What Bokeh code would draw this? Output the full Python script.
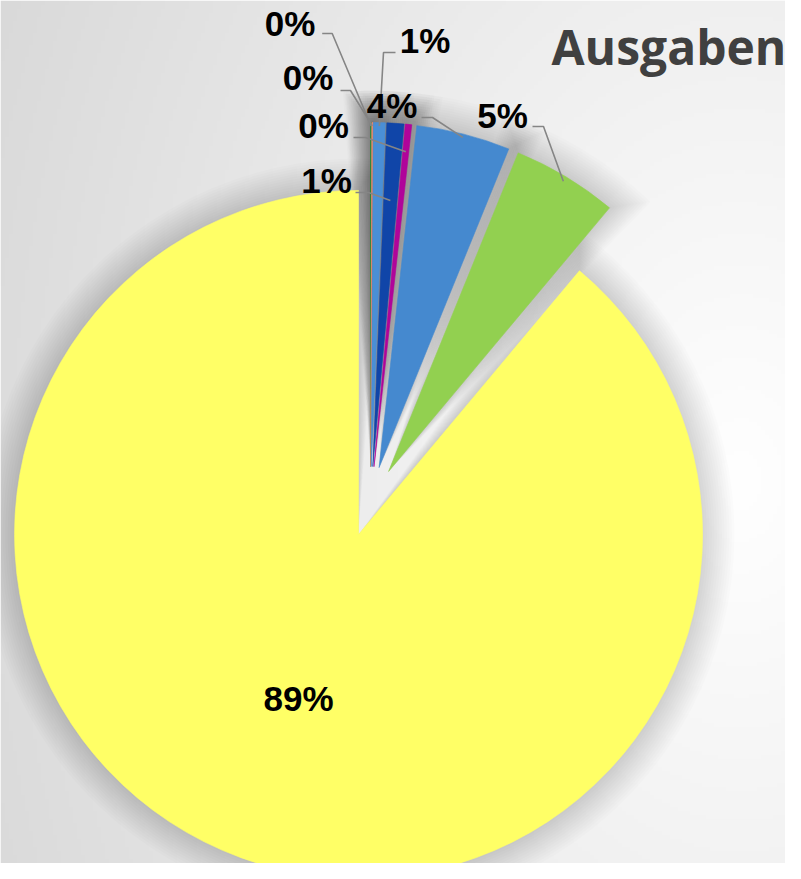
import numpy as np
from bokeh.plotting import figure
from bokeh.models import Range1d
from bokeh.core.properties import value
from bokeh.embed import file_html
from bokeh.resources import INLINE

# ---------------- data ----------------
categories = ["Posten 1", "Posten 2", "Posten 3", "Posten 4",
              "Posten 5", "Posten 6", "Posten 7", "Posten 8"]
shares = [0.05, 0.05, 0.55, 0.8, 0.3, 4.4, 4.95, 88.9]
slice_colors = ["#1b8a2a", "#f08a70", "#4a8fd6", "#1045a8",
                "#b0049a", "#4589cf", "#92d050", "#ffff66"]
title_text = "Ausgaben"

# ---------------- layout (reference pixel space, y down) ----------------
IMG_H = 879
W, H = 785, 863
CX, CY = 370.0, 501.0      # pie centre
R = 344.0                  # radius
EXPLODE = 35.0             # explosion distance of every slice
LABEL_PX = 35
TITLE_PX = 48
BASE_FIX = 0.385           # em shift to put the glyph baseline where wanted

# label text anchors (centre x, baseline y) and leader elbows
label_pos = [(289.5, 36), (307.5, 90), (424.5, 53), (326, 193),
             (323, 138), (391.5, 118), (502, 128)]
leader_h = [(321.7, 331.7, 33), (340, 350, 90), (395, 383, 52), (355, 368, 192),
            (353, 365, 137), (421, 432, 117), (532, 543, 126)]
leader_frac = [0.99, 0.99, 0.99, 0.775, 0.92, 0.99, 0.985]


def Y(yref):
    return IMG_H - yref


p = figure(width=W, height=H, output_backend="svg", toolbar_location=None,
           x_range=Range1d(0, W), y_range=Range1d(IMG_H - H, IMG_H),
           min_border=0, border_fill_color="#ffffff",
           background_fill_color="#ffffff")
p.axis.visible = False
p.grid.visible = False
p.outline_line_color = None

# ---------------- background gradient ----------------
nx, ny = W // 4, H // 4
xs = (np.arange(nx) + 0.5) * W / nx
ys_data = (IMG_H - H) + (np.arange(ny) + 0.5) * H / ny
ys_ref = IMG_H - ys_data
gx, gy = np.meshgrid(xs, ys_ref)
n = np.sqrt(((gx - 740) / 900.0) ** 2 + ((gy - 480) / 1300.0) ** 2)
v = np.clip(255 - 42 * np.minimum(n, 1.05), 0, 255).astype(np.uint8)
img = np.empty((ny, nx), dtype=np.uint32)
view = img.view(dtype=np.uint8).reshape((ny, nx, 4))
view[:, :, 0] = v
view[:, :, 1] = v
view[:, :, 2] = v
view[:, :, 3] = 255
p.image_rgba(image=[img], x=0, y=IMG_H - H, dw=W, dh=H)

# ---------------- pie geometry ----------------
vals = np.array(shares, dtype=float)
frac = vals / vals.sum()
ends = np.cumsum(frac) * 2 * np.pi        # clockwise from 12 o'clock
starts = ends - frac * 2 * np.pi
bis = (starts + ends) / 2
tip_x = CX + EXPLODE * np.sin(bis)
tip_y = CY - EXPLODE * np.cos(bis)        # reference (y down)

# soft shadow
for s in np.arange(2.0, 34.0, 2.5):
    da = s / R * 0.8
    p.wedge(x=list(tip_x), y=list(Y(tip_y)), radius=R + s,
            start_angle=list(np.pi / 2 - ends - da),
            end_angle=list(np.pi / 2 - starts + da),
            direction="anticlock", fill_color="#000000", fill_alpha=0.010,
            line_color=None)

# slices
p.wedge(x=list(tip_x), y=list(Y(tip_y)), radius=R,
        start_angle=list(np.pi / 2 - ends), end_angle=list(np.pi / 2 - starts),
        direction="anticlock", fill_color=slice_colors,
        line_color=slice_colors, line_width=0.6)

# ---------------- labels ----------------
pct = [f"{int(round(f * 100))}%" for f in frac]

lx, ly = [], []
for i, (x0, x1, yh) in enumerate(leader_h):
    ex = tip_x[i] + leader_frac[i] * R * np.sin(bis[i])
    ey = tip_y[i] - leader_frac[i] * R * np.cos(bis[i])
    lx.append([x0, x1, ex])
    ly.append([Y(yh), Y(yh), Y(ey)])
p.multi_line(xs=lx, ys=ly, line_color="#858585", line_width=1.6)

lab_fix = BASE_FIX * LABEL_PX
txt_x = [pp[0] for pp in label_pos]
txt_y = [Y(pp[1] - lab_fix) for pp in label_pos]
txt = pct[:len(label_pos)]

# largest slice label inside, on its bisector
k = len(vals) - 1
txt_x.append(tip_x[k] + 0.51 * R * np.sin(bis[k]))
txt_y.append(Y(tip_y[k] - 0.51 * R * np.cos(bis[k]) + 12.5 - lab_fix))
txt.append(pct[k])

p.text(x=txt_x, y=txt_y, text=txt, text_font=value("Liberation Sans"),
       text_font_style="bold", text_font_size=f"{LABEL_PX}px", text_color="#000000",
       text_align="center", text_baseline="alphabetic")

p.text(x=[551], y=[Y(64 - BASE_FIX * TITLE_PX)], text=[title_text],
       text_font=value("Open Sans"), text_font_style="bold",
       text_font_size=f"{TITLE_PX}px", text_color="#404040",
       text_align="left", text_baseline="alphabetic")

open("out.html", "w").write(file_html(p, INLINE))
